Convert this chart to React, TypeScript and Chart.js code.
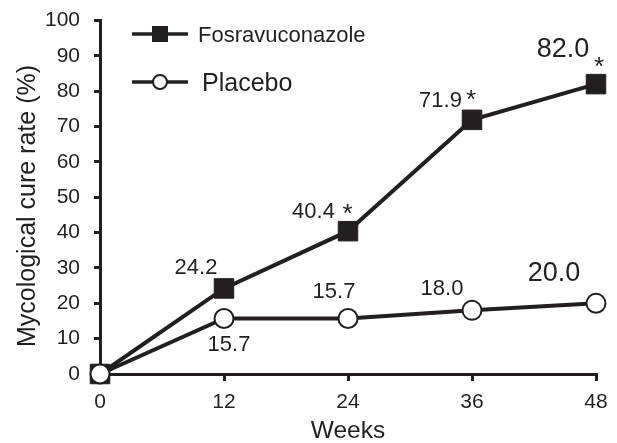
import React, { useEffect, useRef } from 'react';
import { Chart, registerables } from 'chart.js';

Chart.register(...registerables);

// ---- data ----
const weeks = [0, 12, 24, 36, 48];
const fosravuconazole = [0, 24.2, 40.4, 71.9, 82.0];
const placebo = [0, 15.7, 15.7, 18.0, 20.0];
const fosraSignificant = [false, false, true, true, true];
const xTickValues = [0, 12, 24, 36, 48];
const seriesNames = ['Fosravuconazole', 'Placebo'];
const xTitle = 'Weeks';
const yTitle = 'Mycological cure rate (%)';

// ---- styling ----
const INK = '#231f20';
const FONT = "'Liberation Sans', Arial, Helvetica, sans-serif";

// label placement relative to each point (dx, dy of text centre), font size, star offset
type LabelLayout = { dx: number; dy: number; size: number; sdx?: number; sdy?: number } | null;
const fosraLabelLayout: LabelLayout[] = [
  null,
  { dx: -28, dy: -22, size: 22 },
  { dx: -34.5, dy: -21, size: 22, sdx: -0.5, sdy: -24.6 },
  { dx: -31.5, dy: -21, size: 22, sdx: -1, sdy: -26.6 },
  { dx: -33, dy: -36.4, size: 27, sdx: 3, sdy: -24 },
];
const placeboLabelLayout: LabelLayout[] = [
  null,
  { dx: 5, dy: 25, size: 22 },
  { dx: -14, dy: -28, size: 22 },
  { dx: -30, dy: -23, size: 22 },
  { dx: -42, dy: -31.5, size: 27 },
];

const annotatePlugin = {
  id: 'annotate',
  afterDatasetsDraw(chart: any) {
    const ctx = chart.ctx as CanvasRenderingContext2D;
    const xs = chart.scales.x;
    const ys = chart.scales.y;
    ctx.save();
    ctx.fillStyle = INK;
    ctx.textAlign = 'center';
    ctx.textBaseline = 'alphabetic';
    const put = (text: string, cx: number, cy: number, size: number) => {
      ctx.font = `${size}px ${FONT}`;
      ctx.fillText(text, cx, cy + 0.358 * size);
    };
    const star = (cx: number, cy: number) => {
      ctx.font = `26px ${FONT}`;
      ctx.fillText('*', cx, cy + 0.58 * 26);
    };
    const series: [number[], LabelLayout[], boolean[] | null][] = [
      [fosravuconazole, fosraLabelLayout, fosraSignificant],
      [placebo, placeboLabelLayout, null],
    ];
    for (const [vals, layout, sig] of series) {
      vals.forEach((v, i) => {
        const l = layout[i];
        if (!l) return;
        const px = xs.getPixelForValue(weeks[i]);
        const py = ys.getPixelForValue(v);
        put(v.toFixed(1), px + l.dx, py + l.dy, l.size);
        if (sig && sig[i] && l.sdx !== undefined && l.sdy !== undefined) {
          star(px + l.sdx, py + l.sdy);
        }
      });
    }
    ctx.restore();
  },
  afterDraw(chart: any) {
    const ctx = chart.ctx as CanvasRenderingContext2D;
    ctx.save();
    // legend
    ctx.strokeStyle = INK;
    ctx.fillStyle = INK;
    ctx.lineWidth = 3.5;
    // row 1
    ctx.beginPath();
    ctx.moveTo(132, 34);
    ctx.lineTo(188, 34);
    ctx.stroke();
    ctx.fillRect(152, 26, 16, 16);
    ctx.textAlign = 'left';
    ctx.textBaseline = 'alphabetic';
    ctx.font = `22px ${FONT}`;
    ctx.fillText(seriesNames[0], 198, 34 + 0.358 * 22);
    // row 2
    ctx.beginPath();
    ctx.moveTo(132, 82);
    ctx.lineTo(188, 82);
    ctx.stroke();
    ctx.beginPath();
    ctx.arc(160, 82, 7, 0, Math.PI * 2);
    ctx.fillStyle = '#ffffff';
    ctx.fill();
    ctx.lineWidth = 2;
    ctx.stroke();
    ctx.fillStyle = INK;
    ctx.font = `25px ${FONT}`;
    ctx.fillText(seriesNames[1], 202, 82 + 0.358 * 25);
    // y axis title
    ctx.translate(35, 206);
    ctx.rotate(-Math.PI / 2);
    ctx.textAlign = 'center';
    ctx.font = `25px ${FONT}`;
    ctx.fillText(yTitle, 0, 0);
    ctx.restore();
  },
};

export default function App() {
  const canvasRef = useRef<HTMLCanvasElement | null>(null);

  useEffect(() => {
    const canvas = canvasRef.current;
    if (!canvas) return;
    const chart = new Chart(canvas, {
      type: 'line',
      data: {
        datasets: [
          {
            label: seriesNames[0],
            data: weeks.map((w, i) => ({ x: w, y: fosravuconazole[i] })),
            borderColor: INK,
            backgroundColor: INK,
            borderWidth: 4,
            pointStyle: 'rect',
            pointRadius: 13.8,
            pointBorderWidth: 1,
            pointBackgroundColor: INK,
            pointBorderColor: INK,
            tension: 0,
            clip: false,
            order: 2,
          },
          {
            label: seriesNames[1],
            data: weeks.map((w, i) => ({ x: w, y: placebo[i] })),
            borderColor: INK,
            backgroundColor: '#ffffff',
            borderWidth: 4,
            pointStyle: 'circle',
            pointRadius: 9.5,
            pointBorderWidth: 2,
            pointBackgroundColor: '#ffffff',
            pointBorderColor: INK,
            tension: 0,
            clip: false,
            order: 1,
          },
        ],
      } as any,
      options: {
        responsive: false,
        animation: false,
        devicePixelRatio: 1,
        layout: { padding: { left: 0, top: 20.5, right: 21, bottom: 0 } },
        plugins: {
          legend: { display: false },
          tooltip: { enabled: false },
          title: { display: false },
        },
        scales: {
          x: {
            type: 'linear',
            min: 0,
            max: 48,
            afterBuildTicks: (s: any) => {
              s.ticks = xTickValues.map((v) => ({ value: v }));
            },
            afterFit: (s: any) => {
              s.height = 69;
              s.paddingLeft = 0;
              s.paddingRight = 0;
            },
            grid: {
              drawOnChartArea: false,
              drawTicks: true,
              tickLength: 7,
              lineWidth: 3,
              color: INK,
            },
            border: { display: true, width: 3, color: INK },
            ticks: {
              color: INK,
              padding: 9,
              font: { family: FONT, size: 21 },
              maxRotation: 0,
            },
            title: {
              display: true,
              text: xTitle,
              color: INK,
              font: { family: FONT, size: 24.5, lineHeight: 1 },
              padding: { top: 0, bottom: 0 },
            },
          },
          y: {
            type: 'linear',
            min: 0,
            max: 100,
            afterFit: (s: any) => {
              s.width = 100;
              s.paddingTop = 0;
              s.paddingBottom = 0;
            },
            grid: {
              drawOnChartArea: false,
              drawTicks: true,
              tickLength: 6,
              lineWidth: 3,
              color: INK,
            },
            border: { display: true, width: 3, color: INK },
            ticks: {
              stepSize: 10,
              color: INK,
              padding: 14,
              font: { family: FONT, size: 21 },
            },
          },
        },
      } as any,
      plugins: [annotatePlugin],
    });
    return () => chart.destroy();
  }, []);

  return (
    <div style={{ position: 'absolute', left: 0, top: 0, width: 617, height: 443, background: '#ffffff' }}>
      <canvas ref={canvasRef} width={617} height={443} style={{ display: 'block', width: 617, height: 443 }} />
    </div>
  );
}
